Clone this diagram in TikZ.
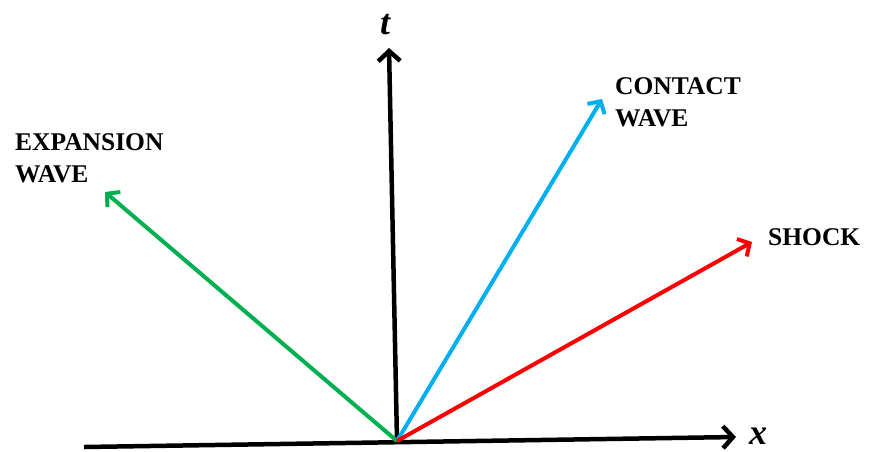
\documentclass[tikz,border=0pt]{standalone}
\usepackage{fontspec}
\setmainfont{Liberation Serif}
\usetikzlibrary{arrows.meta}
\definecolor{wavegreen}{RGB}{0,176,80}
\definecolor{waveblue}{RGB}{0,176,240}
\definecolor{wavered}{RGB}{255,0,0}

\begin{document}
\begin{tikzpicture}[x=1pt,y=-1pt,
  axis/.style={line width=4.5pt,-{Straight Barb[length=10pt,width=22pt,line width=4.5pt]}},
  wave/.style={line width=4pt,-{Straight Barb[length=9pt,width=20pt,line width=4pt]}},
  lbl/.style={font=\fontsize{25.5}{32}\selectfont\bfseries,align=left,inner sep=0pt,anchor=north west}]
\useasboundingbox (0,0) rectangle (869,451);
% axes
\coordinate (o) at (397,441);
\coordinate (xl) at (84,447);
\coordinate (xr) at (736,437);
\coordinate (tt) at (389,48);
\draw[axis] (xl) -- (xr);
\draw[axis] (o) -- (tt);
\node[font=\fontsize{36}{36}\selectfont\bfseries\itshape,anchor=base,inner sep=0pt] (tl) at (385,34) {t};
\node[font=\fontsize{36}{36}\selectfont\bfseries\itshape,anchor=base west,inner sep=0pt] (xlab) at (749,444) {x};
% waves
\coordinate (eg) at (105,192);
\coordinate (cw) at (602,99);
\coordinate (sk) at (752,242);
\draw[wave,wavegreen] (o) -- (eg);
\draw[wave,waveblue] (o) -- (cw);
\draw[wave,wavered] (o) -- (sk);
\node[lbl] (expl) at (15,133) {EXPANSION\\WAVE};
\node[lbl] (conl) at (615,77) {CONTACT\\WAVE};
\node[lbl] (shkl) at (768,228) {SHOCK};
\end{tikzpicture}
\end{document}
